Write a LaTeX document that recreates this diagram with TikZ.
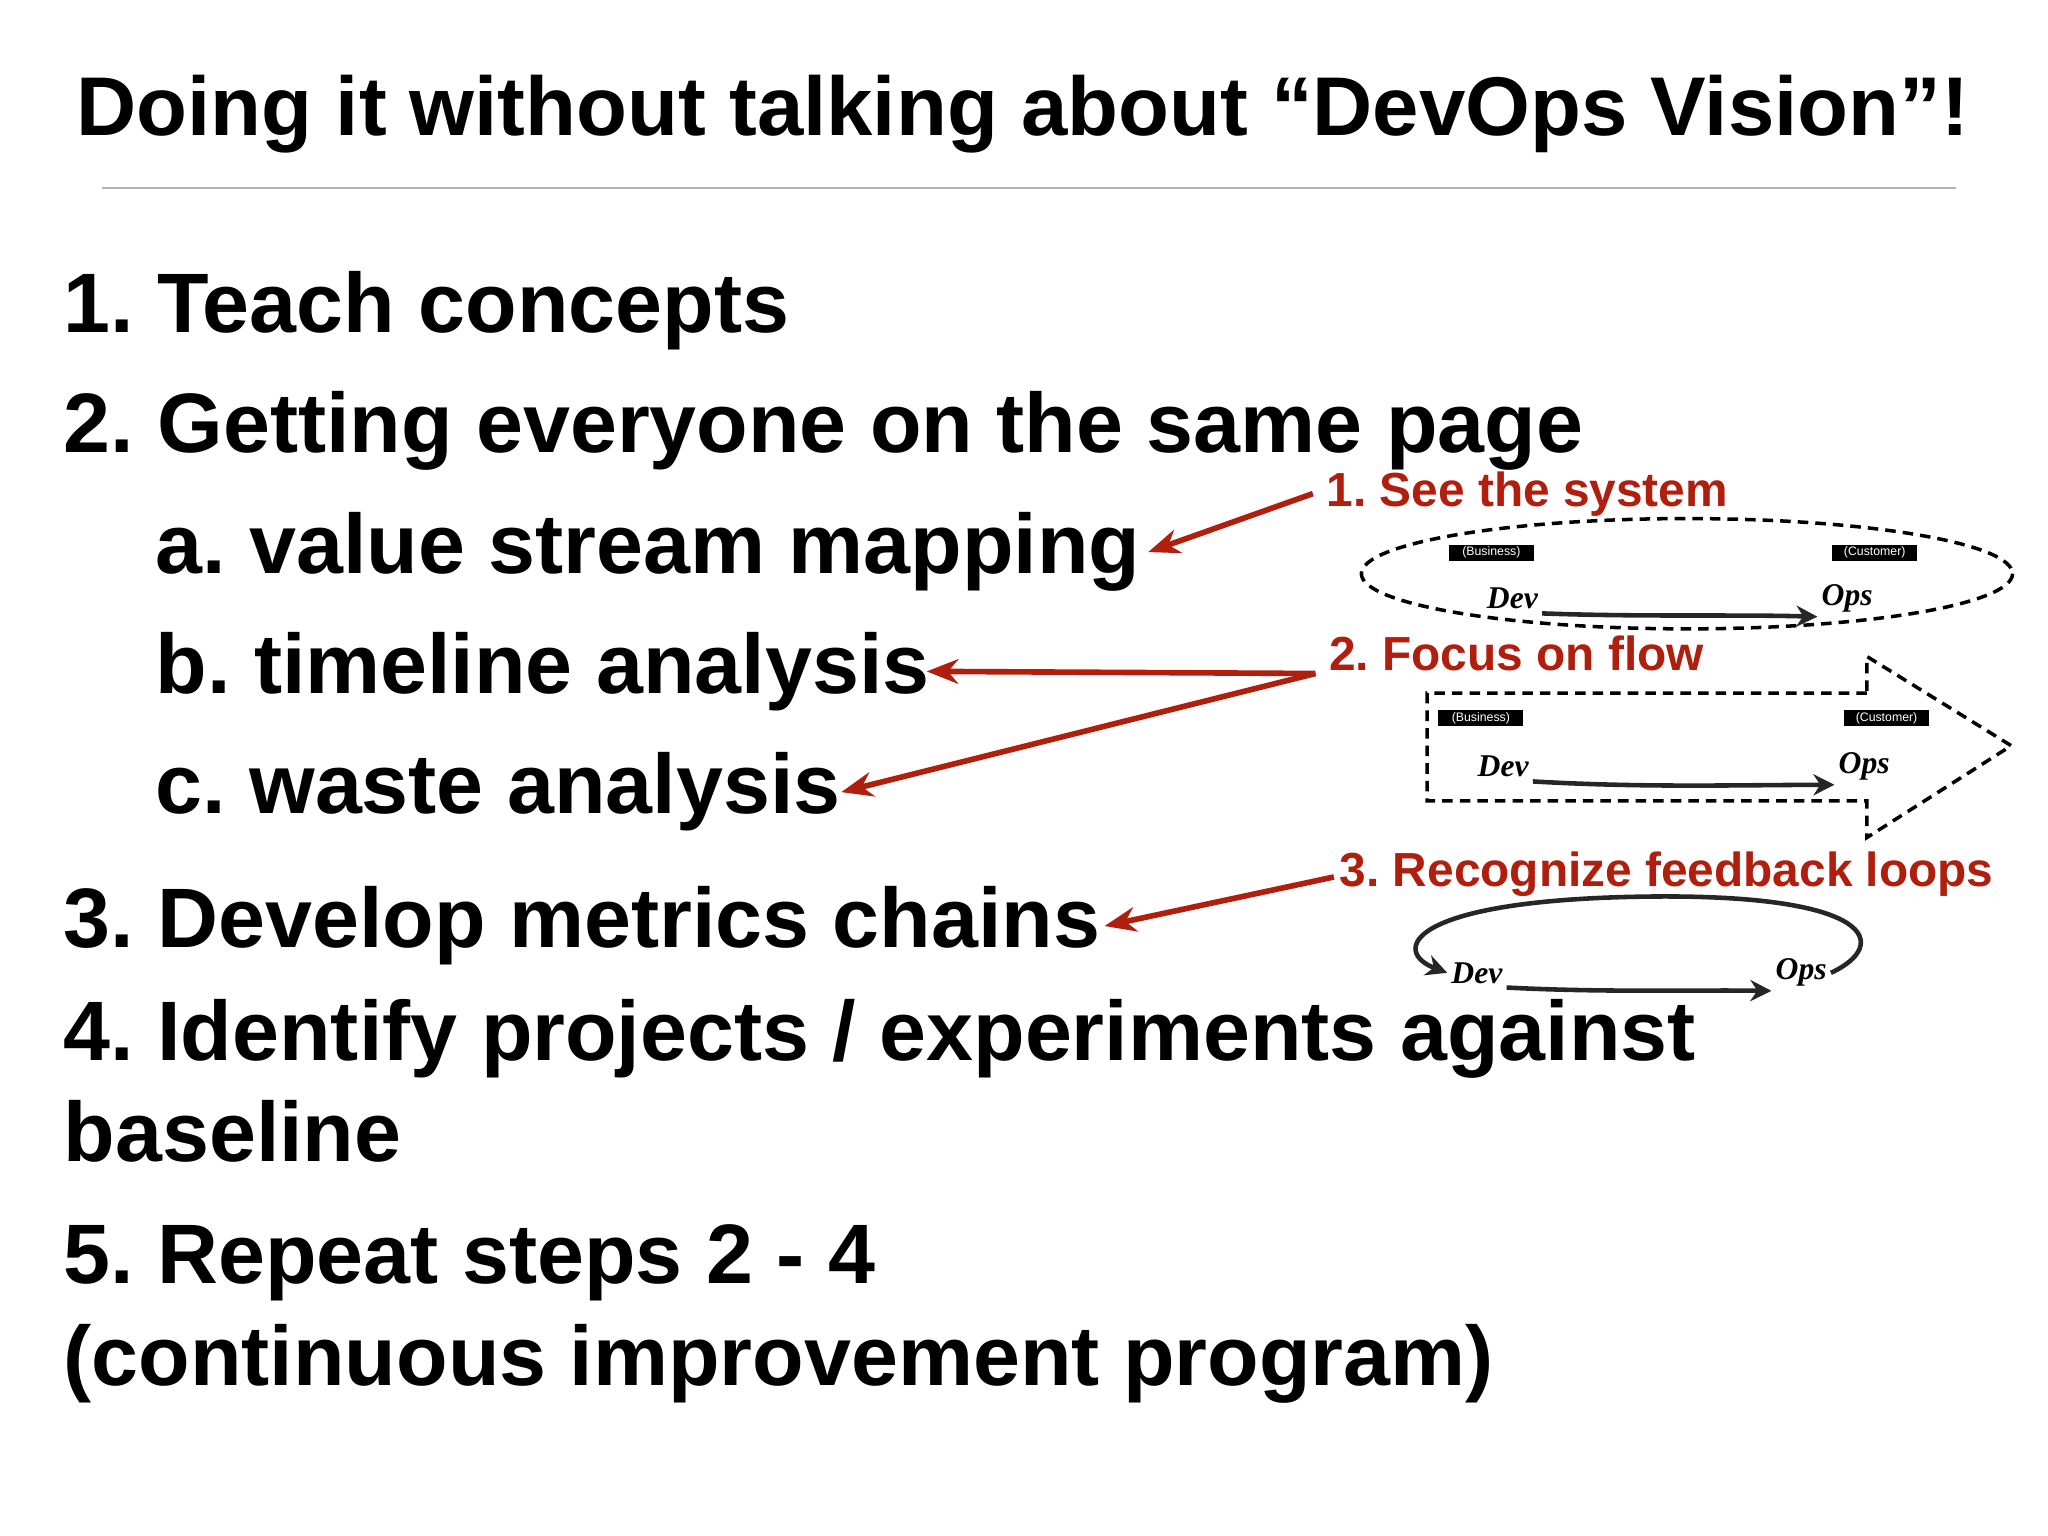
\documentclass[tikz,border=0pt]{standalone}
\usepackage{fontspec}
\setmainfont{Liberation Sans}
\newfontfamily\scr{Liberation Serif}
\usetikzlibrary{arrows.meta}
\definecolor{redc}{HTML}{B01E0E}
\frenchspacing
\tikzset{
 main/.style={anchor=base west,font=\fontsize{24}{28}\selectfont\bfseries,inner sep=0pt},
 lab/.style={anchor=base west,font=\fontsize{13.6}{16}\selectfont\bfseries,text=redc,inner sep=0pt},
 rarr/.style={draw=redc,line width=1.6pt,-{Stealth[length=9pt,width=7pt]}},
 tag/.style={fill=black,text=white,font=\fontsize{3.5}{4}\selectfont,minimum width=0.85cm,minimum height=0.16cm,inner sep=0pt},
 dv/.style={font=\scr\itshape\bfseries\fontsize{9}{10}\selectfont,inner sep=1pt},
 bar/.style={line width=1.3pt,draw=black!85,-{Stealth[length=6pt,width=6pt]}},
 dsh/.style={draw=black,line width=1pt,dash pattern=on 3pt off 2pt}
}
\begin{document}
\begin{tikzpicture}[x=0.013128cm,y=-0.013128cm]
\useasboundingbox (0,0) rectangle (1560,1170);
\node[anchor=base,font=\fontsize{23.7}{27}\selectfont\bfseries,inner sep=0pt] (title) at (779,103) {Doing it without talking about “DevOps Vision”!};
\draw[black!30,line width=0.6pt] (78,143) -- (1490,143);
\node[main] (l1) at (48,253) {1. Teach concepts};
\node[main] (l2) at (48,345) {2. Getting everyone on the same page};
\node[main] (la) at (118,437) {a. value stream mapping};
\node[main] (lb) at (118,528) {b. timeline analysis};
\node[main] (lc) at (118,620) {c. waste analysis};
\node[main] (l3) at (48,722) {3. Develop metrics chains};
\node[main] (l4) at (48,808) {4. Identify projects / experiments against};
\node[main] (l4b) at (48,885) {baseline};
\node[main] (l5) at (48,978) {5. Repeat steps 2 - 4};
\node[main] (l5b) at (48,1055) {(continuous improvement program)};
\node[lab] (r1) at (1010,386) {1. See the system};
\node[lab] (r2) at (1012,511) {2. Focus on flow};
\node[lab] (r3) at (1020,675) {3. Recognize feedback loops};
\coordinate (s1) at (1000,376);
\coordinate (s2) at (1002,513);
\coordinate (s3) at (1016,668);
\draw[rarr] (s1) -- ([xshift=2pt]la.east);
\draw[rarr] (s2) -- ([xshift=-1pt]lb.east);
\draw[rarr] (s2) -- ([xshift=0pt]lc.east);
\draw[rarr] (s3) -- ([xshift=1pt]l3.east);
% diagram 1
\draw[dsh] (1285,437) ellipse [x radius=248, y radius=42];
\node[tag] (b1) at (1136,421) {(Business)};
\node[tag] (c1) at (1428,421) {(Customer)};
\node[dv] (d1) at (1152,456) {Dev};
\node[dv] (o1) at (1407,456) {Ops};
\draw[bar] (d1.south east) .. controls (1250,470) and (1320,468) .. (o1.south west);
% diagram 2
\draw[dsh] (1422,528) -- (1087,528) -- (1087,610) -- (1422,610) -- (1422,638) -- (1532,568) -- (1422,500) -- cycle;
\node[tag] (b2) at (1128,547) {(Business)};
\node[tag] (c2) at (1437,547) {(Customer)};
\node[dv] (d2) at (1145,584) {Dev};
\node[dv] (o2) at (1420,584) {Ops};
\draw[bar] (d2.south east) .. controls (1250,600) and (1320,598) .. (o2.south west);
% diagram 3
\node[dv] (d3) at (1125,741) {Dev};
\node[dv] (o3) at (1372,741) {Ops};
\draw[bar] (d3.south east) .. controls (1220,756) and (1290,754) .. (o3.south west);
\draw[line width=1.3pt,draw=black!85,-{Stealth[length=6pt,width=6pt]}] (o3.east) .. controls (1440,720) and (1430,680) .. (1250,683) .. controls (1070,686) and (1060,725) .. (d3.west);
\end{tikzpicture}
\end{document}
